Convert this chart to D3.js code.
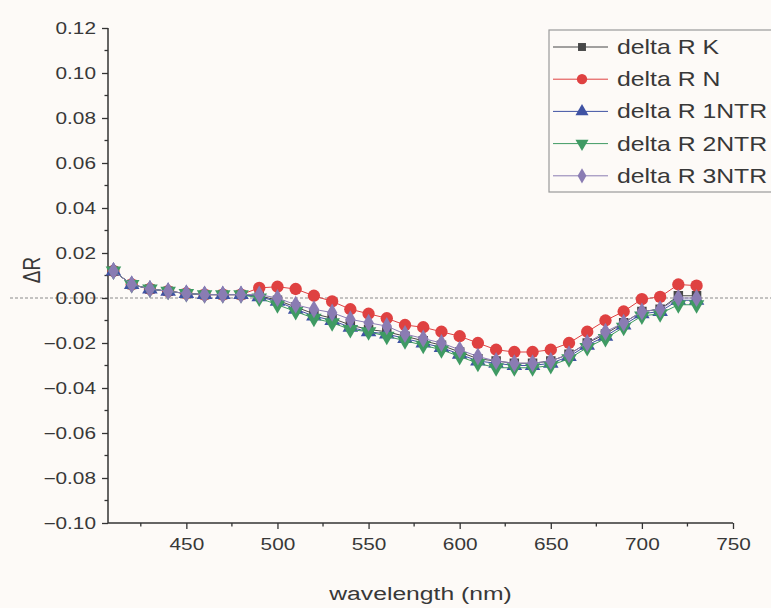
<!DOCTYPE html>
<html>
<head>
<meta charset="utf-8">
<script src="https://cdn.jsdelivr.net/npm/d3@7/dist/d3.min.js"></script>
<style>
  html, body { margin: 0; padding: 0; background: #fdfaf7; }
  svg { display: block; font-family: "Liberation Sans", Arial, sans-serif; }
</style>
</head>
<body>
<svg id="chart" width="771" height="608"></svg>
<script>
// Wavelength sampling (nm)
const wavelengths = [410, 420, 430, 440, 450, 460, 470, 480, 490, 500, 510, 520, 530, 540, 550, 560,
  570, 580, 590, 600, 610, 620, 630, 640, 650, 660, 670, 680, 690, 700, 710, 720, 730];

// Reflectance differences for each sample
const deltaK = [0.012, 0.006, 0.004, 0.003, 0.002, 0.0015, 0.0015, 0.0015, 0.001, -0.001, -0.004, -0.007,
  -0.009, -0.012, -0.014, -0.015, -0.017, -0.019, -0.021, -0.024, -0.027, -0.028, -0.029, -0.029,
  -0.028, -0.025, -0.020, -0.016, -0.011, -0.006, -0.005, 0.001, 0.001];
const deltaN = [0.012, 0.006, 0.004, 0.003, 0.002, 0.0015, 0.0015, 0.0015, 0.0045, 0.005, 0.004, 0.001,
  -0.0015, -0.005, -0.007, -0.009, -0.012, -0.013, -0.015, -0.017, -0.020, -0.023, -0.024, -0.024,
  -0.023, -0.020, -0.015, -0.010, -0.006, -0.0005, 0.0005, 0.006, 0.0055];
const delta1NTR = [0.012, 0.006, 0.004, 0.003, 0.002, 0.0015, 0.0015, 0.0015, 0.0005, -0.0015, -0.005, -0.008,
  -0.010, -0.013, -0.015, -0.016, -0.018, -0.020, -0.022, -0.025, -0.028, -0.029, -0.030, -0.030,
  -0.029, -0.026, -0.021, -0.017, -0.012, -0.007, -0.006, -0.001, -0.001];
const delta2NTR = [0.012, 0.006, 0.004, 0.003, 0.002, 0.0015, 0.0015, 0.0015, 0.0, -0.003, -0.006, -0.009,
  -0.011, -0.014, -0.015, -0.017, -0.019, -0.021, -0.023, -0.026, -0.029, -0.031, -0.031, -0.031,
  -0.030, -0.027, -0.022, -0.018, -0.013, -0.008, -0.007, -0.003, -0.003];
const delta3NTR = [0.012, 0.006, 0.004, 0.003, 0.002, 0.0015, 0.0015, 0.0015, 0.0015, 0.0, -0.003, -0.005,
  -0.0065, -0.0095, -0.011, -0.0125, -0.016, -0.018, -0.020, -0.023, -0.026, -0.028, -0.029, -0.029,
  -0.028, -0.025, -0.020, -0.015, -0.011, -0.006, -0.005, 0.000, 0.000];

const seriesNames = ["delta R K", "delta R N", "delta R 1NTR", "delta R 2NTR", "delta R 3NTR"];
const seriesValues = [deltaK, deltaN, delta1NTR, delta2NTR, delta3NTR];
const seriesColors = ["#474747", "#df4141", "#3f52a3", "#3f9a63", "#8a7cb3"];
const seriesSymbols = [d3.symbolSquare, d3.symbolCircle, d3.symbolTriangle, "triangleDown", d3.symbolDiamond];

const xTicks = [450, 500, 550, 600, 650, 700, 750];
const yTicks = [-0.10, -0.08, -0.06, -0.04, -0.02, 0.00, 0.02, 0.04, 0.06, 0.08, 0.10, 0.12];
const xMinor = [425, 475, 525, 575, 625, 675, 725];
const yMinor = [-0.09, -0.07, -0.05, -0.03, -0.01, 0.01, 0.03, 0.05, 0.07, 0.09, 0.11];

const svg = d3.select("#chart");
const plot = { left: 108, right: 733, top: 28, bottom: 523 };
const stretch = 1.3;        // lettering is set wide
const legendStretch = 1.24;

const x = d3.scaleLinear().domain([407, 750]).range([plot.left, plot.right]);
const y = d3.scaleLinear().domain([-0.10, 0.12]).range([plot.bottom, plot.top]);

const axisColor = "#333";
const textColor = "#383838";

// Zero reference line, spanning the whole figure width
svg.append("line")
  .attr("x1", 10).attr("x2", 771)
  .attr("y1", y(0)).attr("y2", y(0))
  .attr("stroke", "#8a8a8a").attr("stroke-width", 1)
  .attr("stroke-dasharray", "3,2");

const yAxis = d3.axisLeft(y).tickValues(yTicks).tickSize(6);
const gy = svg.append("g").attr("transform", `translate(${plot.left},0)`).call(yAxis);
gy.selectAll(".tick text")
  .attr("font-size", 16).attr("fill", textColor)
  .attr("x", -12 / stretch)
  .attr("transform", `scale(${stretch},1)`)
  .text(d => d3.format(".2f")(d).replace("-0.00", "0.00"));
gy.append("g").selectAll("line").data(yMinor).join("line")
  .attr("x1", -3.5).attr("x2", 0).attr("y1", d => y(d)).attr("y2", d => y(d))
  .attr("stroke", axisColor).attr("stroke-width", 1.3);

const xAxis = d3.axisBottom(x).tickValues(xTicks).tickSize(6).tickPadding(10);
const gx = svg.append("g").attr("transform", `translate(0,${plot.bottom})`).call(xAxis);
gx.selectAll(".tick text")
  .attr("font-size", 16).attr("fill", textColor)
  .attr("transform", `scale(${stretch},1)`);
gx.append("g").selectAll("line").data(xMinor).join("line")
  .attr("x1", d => x(d)).attr("x2", d => x(d)).attr("y1", 0).attr("y2", 3.5)
  .attr("stroke", axisColor).attr("stroke-width", 1.3);

[gx, gy].forEach(g => {
  g.select(".domain").attr("stroke", axisColor).attr("stroke-width", 1.5);
  g.selectAll(".tick line").attr("stroke", axisColor).attr("stroke-width", 1.3);
});
gy.select(".domain").attr("d", `M0,${plot.top}V${plot.bottom}`);
gx.select(".domain").attr("d", `M${plot.left},0H${plot.right}`);

// Axis titles
svg.append("text")
  .attr("transform", `translate(40,270) rotate(-90) scale(1,${stretch})`)
  .attr("text-anchor", "middle")
  .attr("font-size", 19).attr("fill", textColor)
  .text("ΔR");
svg.append("text")
  .attr("transform", `translate(${(plot.left + plot.right) / 2},600) scale(${stretch},1)`)
  .attr("text-anchor", "middle")
  .attr("font-size", 19).attr("fill", textColor)
  .text("wavelength (nm)");

// Marker shapes
function markerPath(sym, size) {
  return d3.symbol(sym === "triangleDown" ? d3.symbolTriangle : sym, size)();
}
const markerSizes = [90, 120, 105, 105, 95];

const line = d3.line().x((d, i) => x(wavelengths[i])).y(d => y(d));

seriesValues.forEach((vals, s) => {
  const g = svg.append("g");
  g.append("path").datum(vals)
    .attr("d", line)
    .attr("fill", "none").attr("stroke", seriesColors[s]).attr("stroke-width", 1);
  g.selectAll("path.pt").data(vals).join("path")
    .attr("class", "pt")
    .attr("d", markerPath(seriesSymbols[s], markerSizes[s]))
    .attr("transform", (d, i) => `translate(${x(wavelengths[i])},${y(d)})` +
      (seriesSymbols[s] === "triangleDown" ? " rotate(180)" : ""))
    .attr("fill", seriesColors[s]);
});

// Legend
const legend = { left: 549, top: 30, bottom: 192, rowH: 32.2, firstRow: 47 };
svg.append("rect")
  .attr("x", legend.left).attr("y", legend.top)
  .attr("width", 260).attr("height", legend.bottom - legend.top)
  .attr("fill", "none").attr("stroke", "#9a9a9a").attr("stroke-width", 1.2);
seriesNames.forEach((name, s) => {
  const cy = legend.firstRow + s * legend.rowH;
  svg.append("line")
    .attr("x1", legend.left + 4).attr("x2", legend.left + 59)
    .attr("y1", cy).attr("y2", cy)
    .attr("stroke", seriesColors[s]).attr("stroke-width", 1);
  svg.append("path")
    .attr("d", markerPath(seriesSymbols[s], markerSizes[s] * 0.7))
    .attr("transform", `translate(${legend.left + 33},${cy})` +
      (seriesSymbols[s] === "triangleDown" ? " rotate(180)" : ""))
    .attr("fill", seriesColors[s]);
  svg.append("text")
    .attr("transform", `translate(${legend.left + 68},${cy + 7}) scale(${legendStretch},1)`)
    .attr("font-size", 20).attr("fill", textColor)
    .text(name);
});
</script>
</body>
</html>
